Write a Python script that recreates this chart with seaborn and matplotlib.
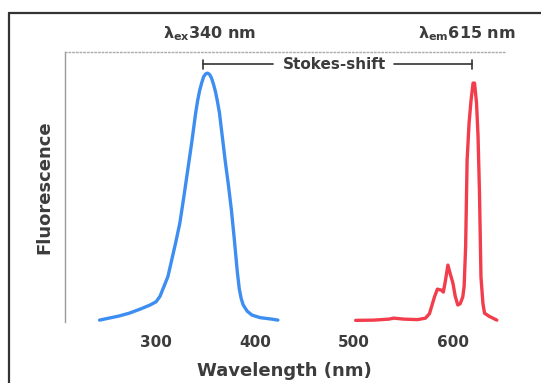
import matplotlib
matplotlib.use('Agg')
import matplotlib.pyplot as plt
import seaborn as sns
import pandas as pd
from matplotlib.lines import Line2D

# excitation spectrum (blue)
ex_wl = [243, 250, 262, 273, 285, 294, 300, 304, 308, 312, 316, 320, 324, 328,
         332, 336, 338, 340, 342, 344, 346, 348, 350, 352, 354, 356, 358, 360,
         362, 364, 367, 370, 373, 376, 379, 382, 384, 386, 388, 392, 397, 405,
         417, 423]
ex_int = [0.004, 0.01, 0.02, 0.032, 0.05, 0.065, 0.078, 0.1, 0.14, 0.18, 0.25,
          0.32, 0.395, 0.5, 0.61, 0.72, 0.78, 0.84, 0.89, 0.93, 0.96, 0.985,
          0.997, 1.0, 0.995, 0.98, 0.955, 0.925, 0.885, 0.84, 0.74, 0.64, 0.55,
          0.45, 0.33, 0.2, 0.13, 0.09, 0.065, 0.04, 0.024, 0.014, 0.008, 0.004]

# emission spectrum (red)
em_wl = [501.5, 520, 535, 540, 550, 564, 572, 576, 581, 584, 588, 590, 592,
         594.6, 597, 599.7, 602, 604.6, 607, 609.6, 611, 612.5, 614, 616, 618,
         620, 621.5, 623.5, 625, 626.5, 628, 630, 631.6, 636, 640, 644]
em_int = [0.003, 0.004, 0.008, 0.012, 0.008, 0.006, 0.012, 0.03, 0.097, 0.129,
          0.125, 0.117, 0.16, 0.226, 0.19, 0.153, 0.10, 0.065, 0.07, 0.097,
          0.14, 0.3, 0.649, 0.8, 0.891, 0.96, 0.96, 0.88, 0.75, 0.516, 0.177,
          0.07, 0.032, 0.02, 0.012, 0.004]

ex_peak, em_peak = 347, 618.5
xticks = [300, 400, 500, 600]

sns.set_style('white')
plt.rcParams['font.family'] = ['DejaVu Sans']
txt = '#3c3c3c'

fig = plt.figure(figsize=(5.41, 3.83), dpi=100)
ax = fig.add_axes([0.120, 0.159, 0.813, 0.705])

ex_df = pd.DataFrame({'wl': ex_wl, 'f': ex_int})
em_df = pd.DataFrame({'wl': em_wl, 'f': em_int})
sns.lineplot(data=ex_df, x='wl', y='f', color='#3d8ef0', lw=2.4, ax=ax)
sns.lineplot(data=em_df, x='wl', y='f', color='#f23d4c', lw=2.4, ax=ax)

ax.set_xlim(208, 652)
ax.set_ylim(-0.004, 1.085)
ax.set_xticks(xticks)
ax.set_yticks([])
ax.tick_params(axis='x', direction='in', length=5, width=0.8, color='#aaaaaa',
               labelsize=11, labelcolor=txt, pad=9)
for lab in ax.get_xticklabels():
    lab.set_fontweight('bold')
ax.set_xlabel('Wavelength (nm)', fontsize=13, fontweight='bold', color=txt, labelpad=9)
ax.set_ylabel('Fluorescence', fontsize=13, fontweight='bold', color=txt, labelpad=8)

ax.spines['right'].set_visible(False)
ax.spines['bottom'].set_visible(False)
ax.spines['left'].set_color('#999999')
ax.spines['left'].set_linewidth(1.0)
ax.spines['top'].set_color('#aaaaaa')
ax.spines['top'].set_linestyle(':')
ax.spines['top'].set_linewidth(1.0)

# Stokes-shift bracket
yb = 1.035
ax.plot([ex_peak, 418], [yb, yb], color='#333333', lw=1.2, clip_on=False)
ax.plot([540, em_peak], [yb, yb], color='#333333', lw=1.2, clip_on=False)
for xv in (ex_peak, em_peak):
    ax.plot([xv, xv], [yb - 0.02, yb + 0.02], color='#333333', lw=1.2, clip_on=False)
ax.text(480, yb, 'Stokes-shift', ha='center', va='center', fontsize=11,
        fontweight='bold', color=txt)

ax.text(354, 1.16, r'λ$_{\mathbf{ex}}$340 nm', ha='center', va='center',
        fontsize=11.5, fontweight='bold', color=txt, clip_on=False)
ax.text(614, 1.16, r'λ$_{\mathbf{em}}$615 nm', ha='center', va='center',
        fontsize=11.5, fontweight='bold', color=txt, clip_on=False)

# cropped outer frame
fig.add_artist(Line2D([9 / 541, 9 / 541], [0, 1 - 13 / 383], color='#333333', lw=1.6))
fig.add_artist(Line2D([9 / 541, 1], [1 - 13 / 383, 1 - 13 / 383], color='#333333', lw=1.6))

fig.savefig('out.png', dpi=100)
